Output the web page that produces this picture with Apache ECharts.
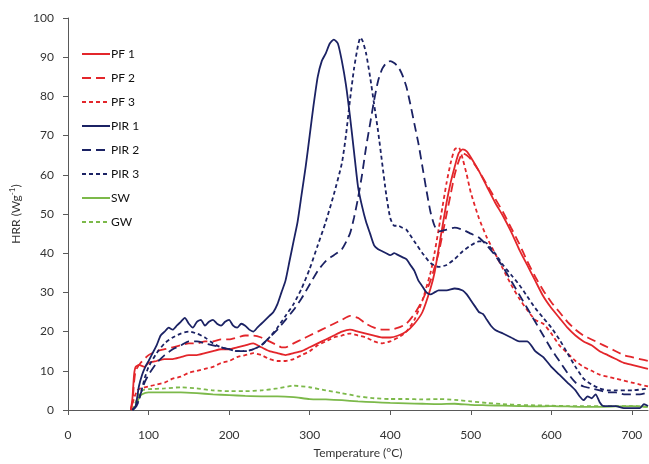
<!DOCTYPE html>
<html>
<head>
<meta charset="utf-8">
<script src="https://cdn.jsdelivr.net/npm/echarts@6/dist/echarts.min.js"></script>
<style>
	html, body { margin: 0; padding: 0; background: #fff; }
	#hrr { width: 649px; height: 464px; }
</style>
</head>
<body>
<div id="hrr"></div>
<script>
// temperatures (°C) and HRR (W/g)
var pf1T = [78,80,82,84,88,95,100,110,120,130,140,150,160,170,180,190,200,210,220,230,240,250,260,270,280,290,300,310,320,330,340,350,360,370,380,390,400,410,420,430,440,450,455,460,465,470,475,480,485,490,495,500,510,520,530,540,550,560,570,580,590,600,610,620,630,640,650,660,670,680,690,700,710,720];
var pf1V = [0,3,9,11,11.5,11,12,12.5,13,13,13.5,14,14,14.5,15,15.5,15.5,16,16.5,17,16,15,14.5,14,14.5,15,16,17,18,19,20,20.5,20,19.5,19,18.5,18.5,19,20,22,25,31,35,41,47,53,58,62,65.5,66.5,66,64.5,61,57,53,49.5,45.5,41,37,33,29,26,23.5,21,19,17.5,16.5,15,14,13,12,11.5,11,10.5];

var pf2T = [78,80,82,84,90,100,110,120,130,140,150,160,170,180,190,200,210,220,230,240,250,260,265,270,280,290,300,310,320,330,340,350,360,370,380,390,400,410,420,430,440,450,460,470,475,480,485,490,495,500,510,520,530,540,550,560,570,580,590,600,610,620,630,640,650,660,670,680,690,700,710,720];
var pf2V = [0,2,7,10,12,14,15,15.5,16,16.5,17,17,17.5,17.5,18,18,18.5,19,19,18.5,17.5,16.5,16,16,17,18,19,20,21,22,23,24,23.5,22,21,20.5,20.5,21,22,24.5,28,33,40,50,55,60,63.5,65.5,65,64,61,57.5,54,50.5,46.5,42.5,38,34,30.5,27.5,25,22.5,20.5,19,18,17,16,15,14,13.5,13,12.5];

var pf3T = [78,82,86,90,100,110,120,130,140,150,160,170,180,190,200,210,220,230,240,250,260,270,280,290,300,310,320,330,340,350,360,370,380,390,400,410,420,430,440,450,455,460,465,470,475,480,485,490,495,500,510,520,530,540,550,560,570,580,590,600,610,620,630,640,650,660,670,680,690,700,710,720];
var pf3V = [0,3,5,5.5,6,6.5,7,8,8.5,9.5,10,10.5,11,12,12.5,13.5,14,14.5,14,13,12.5,12.5,13,14,15,16.5,17.5,18.5,19,19.5,19,18.5,17.5,17,17.5,18.5,20,23,28,35,40,46,52,58,63,66.5,67,64,60,55.5,49,44,40,36,32,28.5,25.5,23,22,19.5,16.5,14.5,12.5,11,10,9,8.5,8,7.5,7,6.5,6];

var pir1T = [80,84,88,92,96,100,105,110,115,120,125,130,135,140,145,150,155,160,165,170,175,180,185,190,195,200,205,210,215,220,225,230,235,240,245,250,255,260,265,270,275,280,285,290,295,300,305,310,315,320,325,330,335,340,345,350,355,360,365,370,375,380,385,390,395,400,405,410,415,420,425,430,435,440,445,450,455,460,470,480,490,495,500,505,510,515,520,525,530,540,550,560,570,575,580,590,600,610,620,630,635,640,645,650,655,660,665,670,680,690,700,710,715,720];
var pir1V = [0,1,6,9,11,12.5,14.5,16.5,19,20,21,20.5,21.5,22.5,23.5,22,21,22.5,23,21.5,22.5,23,22,21.5,22.5,23,21.5,21,22,21.5,20.5,20,21,22,23,24,25,27,30,33,38,43,48,55,62,70,78,85,89,91,93.5,94.5,93.5,89,83,75,66,57,52,48,45,42,41,40.5,40,39.5,40,39.5,39,38.5,37,35.5,33,31.5,30,29.5,30,30.5,30.5,31,30.5,29.5,28,26.5,25,24.5,23,21.5,20.5,19.5,18.5,17.5,17.5,16.5,15,13.5,11,9,7,5,3.5,2.5,3.5,3,4,2,1,1,1,0.5,0.5,0.5,1.5,1];

var pir2T = [80,85,90,95,100,110,120,130,140,150,160,170,180,190,200,210,220,230,240,250,260,270,280,290,300,310,320,330,340,350,355,360,365,370,375,380,385,390,395,400,405,410,415,420,425,430,435,440,445,450,455,460,470,480,490,500,510,520,530,540,550,560,570,580,590,600,610,620,630,640,650,660,670,680,690,700,710,720];
var pir2V = [0,1,4,7,9,12,14,15.5,16.5,17.5,17.5,17,16.5,16,15.5,15,15,15.5,16.5,18.5,20.5,23,25.5,28.5,32,35.5,38,39.5,41,45,49,54,60,67,73,79,84,87,88.5,89,88.5,87.5,85.5,82.5,78,73,68,62,56,50.5,47,45.5,46,46.5,46,45,44,42,39.5,36.5,33,29.5,26,22.5,19,15.5,12.5,9.5,7,6,5.5,5,4.5,4.5,4,4,4,4.5];

var pir3T = [80,85,90,95,100,110,120,130,140,150,160,170,180,190,200,210,220,230,240,250,260,270,280,290,300,310,320,330,340,345,350,355,360,363,366,370,375,380,385,390,395,400,405,410,415,420,430,440,450,460,470,480,490,500,510,515,520,530,540,550,560,570,580,590,600,610,620,630,640,650,660,670,680,700,720];
var pir3V = [0,1,4,8,11,14.5,17,18.5,19.5,20,19.5,18.5,17,16,15.5,15,15,15.5,16.5,18.5,21,24,27,31,36,42,48,55,63,70,79,87,93,95,94,91,85,78,71,63,55,49,47,47,46.5,46,43,40,37.5,36.5,37,38.5,40.5,42,43,43,42.5,40,37,34.5,32,29,26,23.5,21,18,14.5,11,8,6.5,5.5,5,5,5,5.5];

var swT = [80,84,88,92,100,120,140,160,180,200,220,240,260,280,300,320,340,360,380,400,420,440,460,480,500,520,540,560,580,600,620,640,660,680,700,720];
var swV = [0,1,3,4,4.5,4.5,4.5,4.3,4,3.8,3.6,3.5,3.5,3.3,2.8,2.7,2.5,2.2,2,1.8,1.7,1.6,1.5,1.6,1.3,1.2,1.1,1,0.9,1,0.9,0.8,0.8,0.9,1,0.8];

var gwT = [80,84,88,92,100,120,140,160,180,200,220,240,260,280,300,320,340,360,380,400,420,440,460,480,500,520,540,560,580,600,620,640,660,680,700,720];
var gwV = [0,2,4,5,5.3,5.5,5.8,5.5,5,4.8,4.8,5,5.5,6.2,5.8,5,4.3,3.5,3,2.8,2.8,2.7,2.8,2.6,2.2,1.8,1.5,1.3,1.2,1.1,1,1,1,1,1,0.8];

var xTicks = [0, 100, 200, 300, 400, 500, 600, 700];
var yTicks = [0, 10, 20, 30, 40, 50, 60, 70, 80, 90, 100];

var RED = '#e3262b', NAVY = '#1b2264', GREEN = '#7cb94a';

function pairs(t, v) {
	var out = [];
	for (var i = 0; i < t.length; i++) out.push([t[i], v[i]]);
	return out;
}

function line(name, t, v, color, dash) {
	return {
		name: name,
		type: 'line',
		symbol: 'none',
		silent: true,
		smooth: 0.2,
		lineStyle: { color: color, width: 1.8, type: dash },
		itemStyle: { color: color },
		data: pairs(t, v)
	};
}

var chartHrr = echarts.init(document.getElementById('hrr'));
var axisCol = '#595959';
var txtStyle = { fontFamily: 'Lato', fontSize: 12, color: '#333' };

chartHrr.setOption({
	animation: false,
	textStyle: { fontFamily: 'Lato' },
	grid: { left: 65, right: 1, top: 18, bottom: 53 },
	legend: {
		orient: 'vertical',
		left: 76,
		top: 43,
		itemWidth: 28,
		itemHeight: 14,
		itemGap: 12,
		itemStyle: { opacity: 0 },
		textStyle: { fontFamily: 'Lato', fontSize: 12, color: '#111', padding: [0, 0, 0, -4] },
		data: ['PF 1', 'PF 2', 'PF 3', 'PIR 1', 'PIR 2', 'PIR 3', 'SW', 'GW']
	},
	xAxis: {
		type: 'value',
		min: 0,
		max: 720,
		interval: 100,
		name: 'Temperature (°C)',
		nameLocation: 'middle',
		nameGap: 37,
		nameTextStyle: txtStyle,
		axisLine: { lineStyle: { color: axisCol, width: 1 } },
		axisTick: { show: true, length: 5, lineStyle: { color: axisCol } },
		axisLabel: {
			fontFamily: 'Lato', fontSize: 12, color: '#333', margin: 19,
			showMaxLabel: false,
			formatter: function (v) { return xTicks.indexOf(v) >= 0 ? String(v) : ''; }
		},
		splitLine: { show: false }
	},
	yAxis: {
		type: 'value',
		min: 0,
		max: 100,
		interval: 10,
		name: '{a|HRR (Wg}{s|-1}{a|)}',
		nameLocation: 'middle',
		nameGap: 44,
		nameTextStyle: {
			rich: {
				a: { fontFamily: 'Lato', fontSize: 12, color: '#333' },
				s: { fontFamily: 'Lato', fontSize: 8, color: '#333', verticalAlign: 'bottom', padding: [0, 0, 8, 0] }
			}
		},
		axisLine: { show: true, lineStyle: { color: axisCol, width: 1 } },
		axisTick: { show: true, length: 5, lineStyle: { color: axisCol } },
		axisLabel: {
			fontFamily: 'Lato', fontSize: 12, color: '#333', margin: 14,
			formatter: function (v) { return yTicks.indexOf(v) >= 0 ? String(v) : ''; }
		},
		splitLine: { show: false }
	},
	series: [
		line('SW', swT, swV, GREEN, 'solid'),
		line('GW', gwT, gwV, GREEN, [4, 3]),
		line('PF 1', pf1T, pf1V, RED, 'solid'),
		line('PF 2', pf2T, pf2V, RED, [9, 5]),
		line('PF 3', pf3T, pf3V, RED, [4, 3]),
		line('PIR 1', pir1T, pir1V, NAVY, 'solid'),
		line('PIR 2', pir2T, pir2V, NAVY, [9, 5]),
		line('PIR 3', pir3T, pir3V, NAVY, [4, 3])
	]
});
</script>
</body>
</html>
